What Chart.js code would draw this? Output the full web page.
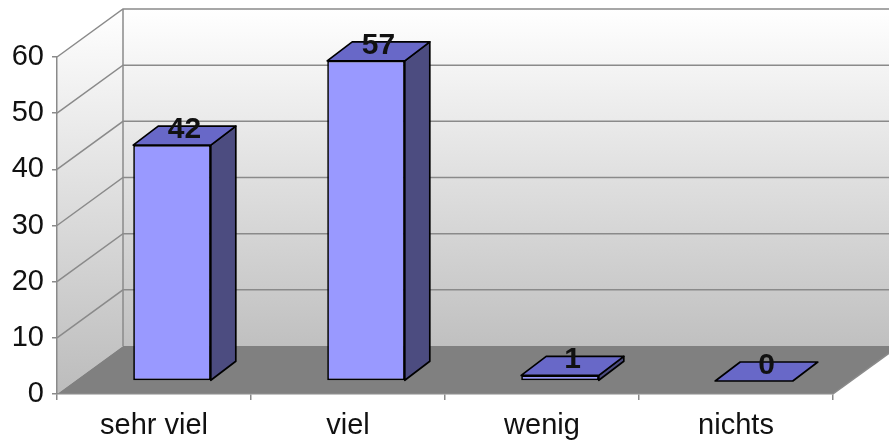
<!DOCTYPE html>
<html>
<head>
<meta charset="utf-8">
<style>
  html, body { margin: 0; padding: 0; background: #ffffff; }
  #wrap { width: 889px; height: 440px; }
</style>
<script src="https://cdn.jsdelivr.net/npm/chart.js@4.4.1/dist/chart.umd.min.js"></script>
</head>
<body>
<div id="wrap"><canvas id="c" width="889" height="440"></canvas></div>
<script>
const categories = ['sehr viel', 'viel', 'wenig', 'nichts'];
const values = [42, 57, 1, 0];
const yTicks = [0, 10, 20, 30, 40, 50, 60];

// 3D styling constants (geometry of the pseudo-3D effect, not data)
const WALL_DX = 66, WALL_DY = -48;   // depth of floor / back wall
const BAR_DX = 18, BAR_DY = -13;     // bars sit this far back from the front plane
const BAR_DEPTH_X = 25, BAR_DEPTH_Y = -19;
const GRID = '#8a8a8a';
const FONT = '"Liberation Sans", Arial, sans-serif';

const wallsPlugin = {
  id: 'walls',
  beforeDraw(chart) {
    const ctx = chart.ctx;
    const ys = chart.scales.y;
    const L = chart.chartArea.left, R = chart.chartArea.right;
    const y0 = ys.getPixelForValue(yTicks[0]);
    const yTop = ys.getPixelForValue(yTicks[yTicks.length - 1]);
    const W = chart.width;
    ctx.save();
    ctx.fillStyle = '#ffffff';
    ctx.fillRect(0, 0, W, chart.height);

    // back wall
    let g = ctx.createLinearGradient(0, yTop + WALL_DY, 0, y0 + WALL_DY);
    g.addColorStop(0, '#ffffff');
    g.addColorStop(1, '#c0c0c0');
    ctx.fillStyle = g;
    ctx.fillRect(L + WALL_DX, yTop + WALL_DY, W - (L + WALL_DX), y0 - yTop);

    // left wall
    g = ctx.createLinearGradient(0, yTop + WALL_DY, 0, y0);
    g.addColorStop(0, '#ffffff');
    g.addColorStop(1, '#bcbcbc');
    ctx.fillStyle = g;
    ctx.beginPath();
    ctx.moveTo(L, y0);
    ctx.lineTo(L, yTop);
    ctx.lineTo(L + WALL_DX, yTop + WALL_DY);
    ctx.lineTo(L + WALL_DX, y0 + WALL_DY);
    ctx.closePath();
    ctx.fill();

    // floor
    ctx.fillStyle = '#808080';
    ctx.beginPath();
    ctx.moveTo(L, y0);
    ctx.lineTo(L + WALL_DX, y0 + WALL_DY);
    ctx.lineTo(R + WALL_DX, y0 + WALL_DY);
    ctx.lineTo(R, y0);
    ctx.closePath();
    ctx.fill();

    // grid lines on walls
    ctx.strokeStyle = GRID;
    ctx.lineWidth = 1.5;
    yTicks.forEach(v => {
      if (v === yTicks[0]) return;
      const py = ys.getPixelForValue(v);
      ctx.beginPath();
      ctx.moveTo(L, py);
      ctx.lineTo(L + WALL_DX, py + WALL_DY);
      ctx.lineTo(W, py + WALL_DY);
      ctx.stroke();
    });
    // back-left vertical edge
    ctx.beginPath();
    ctx.moveTo(L + WALL_DX, yTop + WALL_DY);
    ctx.lineTo(L + WALL_DX, y0 + WALL_DY);
    ctx.stroke();
    // floor right edge
    ctx.beginPath();
    ctx.moveTo(R, y0);
    ctx.lineTo(R + WALL_DX, y0 + WALL_DY);
    ctx.stroke();
    ctx.restore();
  },
  beforeDatasetsDraw(chart) {
    chart.ctx.save();
    chart.ctx.translate(BAR_DX, BAR_DY);
  },
  afterDatasetsDraw(chart) {
    const ctx = chart.ctx;
    const meta = chart.getDatasetMeta(0);
    ctx.lineWidth = 1.7;
    ctx.strokeStyle = '#000000';
    ctx.lineJoin = 'round';
    meta.data.forEach((el) => {
      const p = el.getProps(['x', 'y', 'base', 'width'], true);
      const l = p.x - p.width / 2, r = p.x + p.width / 2;
      const top = Math.min(p.y, p.base), bot = Math.max(p.y, p.base);
      // side face
      if (bot - top > 0.5) {
        ctx.fillStyle = '#4c4c80';
        ctx.beginPath();
        ctx.moveTo(r, top);
        ctx.lineTo(r + BAR_DEPTH_X, top + BAR_DEPTH_Y);
        ctx.lineTo(r + BAR_DEPTH_X, bot + BAR_DEPTH_Y);
        ctx.lineTo(r, bot);
        ctx.closePath();
        ctx.fill();
        ctx.stroke();
      }
      // top face
      ctx.fillStyle = '#6868c8';
      ctx.beginPath();
      ctx.moveTo(l, top);
      ctx.lineTo(l + BAR_DEPTH_X, top + BAR_DEPTH_Y);
      ctx.lineTo(r + BAR_DEPTH_X, top + BAR_DEPTH_Y);
      ctx.lineTo(r, top);
      ctx.closePath();
      ctx.fill();
      ctx.stroke();
    });
    // value labels
    ctx.fillStyle = '#111111';
    ctx.font = 'bold 30px ' + FONT;
    ctx.textAlign = 'center';
    ctx.textBaseline = 'alphabetic';
    meta.data.forEach((el, i) => {
      const p = el.getProps(['x', 'y', 'base'], true);
      const top = Math.min(p.y, p.base);
      const cx = p.x + BAR_DEPTH_X / 2;
      const cy = top + BAR_DEPTH_Y / 2 - 8.5;
      ctx.fillText(String(chart.data.datasets[0].data[i]), cx, cy + 10.7);
    });
    ctx.restore();
  }
};

new Chart(document.getElementById('c'), {
  type: 'bar',
  data: {
    labels: categories,
    datasets: [{
      data: values,
      backgroundColor: '#9999ff',
      borderColor: '#000000',
      borderWidth: 1.7,
      borderSkipped: false,
      barPercentage: 0.4,
      categoryPercentage: 1.0,
      clip: false
    }]
  },
  options: {
    responsive: false,
    animation: false,
    events: [],
    layout: { padding: { left: 0, right: 56, top: 57, bottom: 0 } },
    plugins: { legend: { display: false }, tooltip: { enabled: false }, title: { display: false } },
    scales: {
      x: {
        grid: { display: true, drawOnChartArea: false, drawTicks: true, tickLength: 6, color: GRID, lineWidth: 1.5, offset: true },
        border: { display: true, color: GRID, width: 1.5 },
        ticks: { color: '#111111', font: { family: FONT, size: 29 }, padding: 9, maxRotation: 0 },
        afterFit(scale) { scale.height = 46; }
      },
      y: {
        min: yTicks[0],
        max: yTicks[yTicks.length - 1],
        afterBuildTicks(scale) { scale.ticks = yTicks.map(v => ({ value: v })); },
        grid: { display: true, drawOnChartArea: false, drawTicks: true, tickLength: 5, color: GRID, lineWidth: 1.5 },
        border: { display: true, color: GRID, width: 1.5 },
        ticks: { color: '#111111', font: { family: FONT, size: 29 }, padding: 8 },
        afterFit(scale) { scale.width = 57; }
      }
    }
  },
  plugins: [wallsPlugin]
});
</script>
</body>
</html>
